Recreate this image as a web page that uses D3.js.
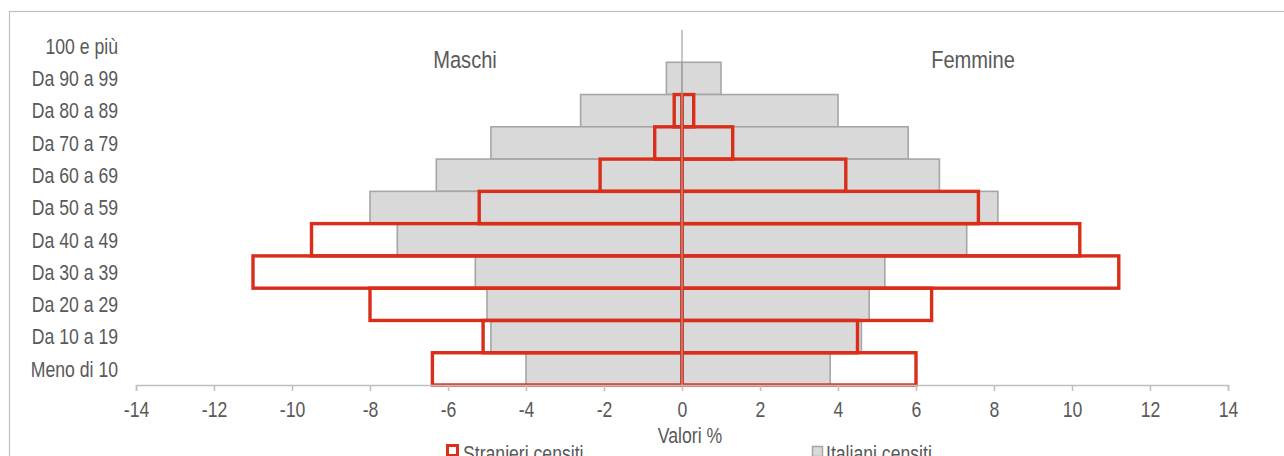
<!DOCTYPE html>
<html>
<head>
<meta charset="utf-8">
<script src="https://cdn.jsdelivr.net/npm/d3@7"></script>
<style>
  html, body { margin: 0; padding: 0; background: #fff; }
  svg { display: block; }
  text { font-family: "Liberation Sans", Arial, sans-serif; fill: #595959; }
</style>
</head>
<body>
<svg id="chart" width="1284" height="456"></svg>
<script>
const categories = ["100 e più","Da 90 a 99","Da 80 a 89","Da 70 a 79","Da 60 a 69","Da 50 a 59","Da 40 a 49","Da 30 a 39","Da 20 a 29","Da 10 a 19","Meno di 10"];
const italianiMaschi  = [0, -0.4, -2.6, -4.9, -6.3, -8.0, -7.3, -5.3, -5.0, -4.9, -4.0];
const italianiFemmine = [0, 1.0, 4.0, 5.8, 6.6, 8.1, 7.3, 5.2, 4.8, 4.6, 3.8];
const stranieriMaschi  = [0, 0, -0.2, -0.7, -2.1, -5.2, -9.5, -11.0, -8.0, -5.1, -6.4];
const stranieriFemmine = [0, 0, 0.3, 1.3, 4.2, 7.6, 10.2, 11.2, 6.4, 4.5, 6.0];
const xTicks = [-14,-12,-10,-8,-6,-4,-2,0,2,4,6,8,10,12,14];
const seriesNames = ["Stranieri censiti", "Italiani censiti"];

const svg = d3.select("#chart");
const RED = "#d92e1a", GRAYF = "#d9d9d9", GRAYS = "#a6a6a6", AX = "#bfbfbf";
const NARROW = 0.82;

// outer border
svg.append("rect").attr("x", 9.5).attr("y", 11.5).attr("width", 1300).attr("height", 500)
  .attr("fill", "none").attr("stroke", AX).attr("stroke-width", 1.2);

const x = d3.scaleLinear().domain([-14, 14]).range([136, 1228]);
const y = d3.scaleBand().domain(categories).range([30, 385]).padding(0);

function rows(vals) {
  return categories.map((c, i) => ({ c, v: vals[i] })).filter(d => d.v !== 0);
}

// Italiani bars
const gI = svg.append("g");
[italianiMaschi, italianiFemmine].forEach(vals => {
  gI.selectAll(null).data(rows(vals)).enter().append("rect")
    .attr("x", d => x(Math.min(0, d.v)))
    .attr("width", d => Math.abs(x(d.v) - x(0)))
    .attr("y", d => y(d.c))
    .attr("height", y.bandwidth())
    .attr("fill", GRAYF).attr("stroke", GRAYS).attr("stroke-width", 1.6);
});

// Stranieri bars
const gS = svg.append("g");
[stranieriMaschi, stranieriFemmine].forEach(vals => {
  gS.selectAll(null).data(rows(vals)).enter().append("rect")
    .attr("x", d => x(Math.min(0, d.v)))
    .attr("width", d => Math.abs(x(d.v) - x(0)))
    .attr("y", d => y(d.c))
    .attr("height", y.bandwidth())
    .attr("fill", "none").attr("stroke", RED).attr("stroke-width", 3.4);
});

// zero line
svg.append("line").attr("x1", x(0)).attr("x2", x(0)).attr("y1", 30).attr("y2", 385)
  .attr("stroke", GRAYS).attr("stroke-width", 1.4).attr("opacity", 0.9);

// x axis
const xAxis = d3.axisBottom(x).tickValues(xTicks).tickSize(6).tickPadding(11).tickFormat(d3.format("d"));
const gx = svg.append("g").attr("transform", "translate(0,385)").call(xAxis);
gx.attr("font-family", null);
gx.select(".domain").attr("stroke", AX).attr("stroke-width", 1.5);
gx.selectAll(".tick line").attr("stroke", AX).attr("stroke-width", 1.5);
gx.selectAll(".tick text").attr("font-size", 21.5).style("fill", "#595959")
  .attr("transform", `scale(${NARROW},1)`)
  .text(d => d < 0 ? "-" + Math.abs(d) : d);

// y labels
const yAxis = d3.axisLeft(y).tickSize(0).tickPadding(0);
const gy = svg.append("g").attr("transform", "translate(118,0)").call(yAxis);
gy.attr("font-family", null);
gy.select(".domain").remove();
gy.selectAll(".tick text").attr("font-size", 21.5).style("fill", "#595959").attr("dy", "0.36em")
  .attr("transform", `scale(${NARROW},1)`);

// helper for narrow text
function ntext(px, py, str, size, anchor) {
  svg.append("g").attr("transform", `translate(${px},${py}) scale(${NARROW},1)`)
    .append("text").attr("text-anchor", anchor).attr("font-size", size).text(str);
}

// titles
ntext(465, 67.5, "Maschi", 24.5, "middle");
ntext(973, 67.5, "Femmine", 24.5, "middle");
ntext(690, 443, "Valori %", 21.5, "middle");

// legend
svg.append("rect").attr("x", 447.5).attr("y", 445.5).attr("width", 10).attr("height", 10)
  .attr("fill", "#fff").attr("stroke", RED).attr("stroke-width", 3);
ntext(463, 461, seriesNames[0], 21.5, "start");
svg.append("rect").attr("x", 812.5).attr("y", 446.5).attr("width", 10).attr("height", 10)
  .attr("fill", GRAYF).attr("stroke", GRAYS).attr("stroke-width", 1.5);
ntext(826, 461, seriesNames[1], 21.5, "start");
</script>
</body>
</html>
